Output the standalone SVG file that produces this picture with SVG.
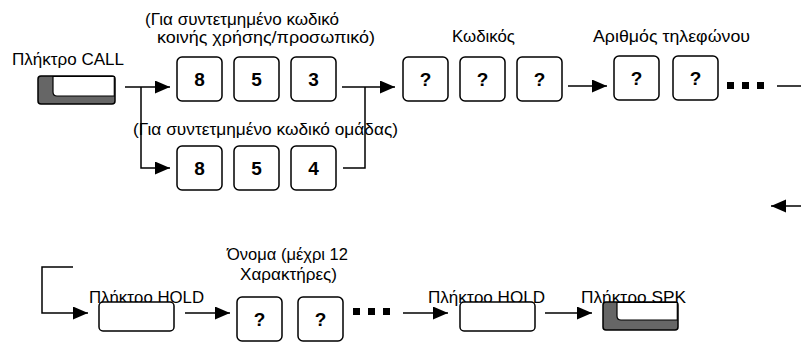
<svg xmlns="http://www.w3.org/2000/svg" width="801" height="342" viewBox="0 0 801 342">
<defs>
<style>
text{font-family:"Liberation Sans",Arial,sans-serif;font-size:17px;fill:#000}
.s{font-size:16px}
.k{font-weight:bold;font-size:19px;text-anchor:middle}
.box{fill:#fff;stroke:#000;stroke-width:1.5}
.dark{fill:#666;stroke:#000;stroke-width:1.5}
.in{fill:#fff;stroke:#000;stroke-width:1.2}
.ln{fill:none;stroke:#000;stroke-width:1.5}
.dot{fill:#000}
</style>
<marker id="ah" markerUnits="userSpaceOnUse" markerWidth="16" markerHeight="14" refX="15" refY="6.5" orient="auto">
<path d="M0,0 L15,6.5 L0,13 z" fill="#000"/>
</marker>
</defs>
<g id="labels">
<text x="12" y="65" textLength="112" lengthAdjust="spacingAndGlyphs">Πλήκτρο CALL</text>
<text class="s" x="145" y="25" textLength="194" lengthAdjust="spacingAndGlyphs">(Για συντετμημένο κωδικό</text>
<text class="s" x="157" y="43" textLength="218" lengthAdjust="spacingAndGlyphs">κοινής χρήσης/προσωπικό)</text>
<text x="452" y="42" textLength="63" lengthAdjust="spacingAndGlyphs">Κωδικός</text>
<text x="593" y="42" textLength="157" lengthAdjust="spacingAndGlyphs">Αριθμός τηλεφώνου</text>
<text x="133" y="135" textLength="265" lengthAdjust="spacingAndGlyphs">(Για συντετμημένο κωδικό ομάδας)</text>
<text x="227" y="260" textLength="121" lengthAdjust="spacingAndGlyphs">Όνομα (μέχρι 12</text>
<text x="240" y="280" textLength="97" lengthAdjust="spacingAndGlyphs">Χαρακτήρες)</text>
</g>
<g id="call-key">
<rect class="dark" x="38" y="76" width="77" height="28" rx="3"/>
<path class="in" d="M53,76.5 H114.3 V96 H57 Q53,96 53,92 Z"/>
</g>
<g id="k853">
<rect class="box" x="177" y="57" width="45" height="44" rx="5"/><text class="k" x="199.5" y="86">8</text>
<rect class="box" x="234" y="57" width="45" height="44" rx="5"/><text class="k" x="256.5" y="86">5</text>
<rect class="box" x="291" y="57" width="45" height="44" rx="5"/><text class="k" x="313.5" y="86">3</text>
</g>
<g id="k854">
<rect class="box" x="177" y="146" width="45" height="44" rx="5"/><text class="k" x="199.5" y="175">8</text>
<rect class="box" x="234" y="146" width="45" height="44" rx="5"/><text class="k" x="256.5" y="175">5</text>
<rect class="box" x="291" y="146" width="45" height="44" rx="5"/><text class="k" x="313.5" y="175">4</text>
</g>
<g id="code">
<rect class="box" x="403" y="57" width="45" height="44" rx="5"/><text class="k" x="425.5" y="86">?</text>
<rect class="box" x="460" y="57" width="45" height="44" rx="5"/><text class="k" x="482.5" y="86">?</text>
<rect class="box" x="517" y="57" width="45" height="44" rx="5"/><text class="k" x="539.5" y="86">?</text>
</g>
<g id="phone">
<rect class="box" x="614" y="56" width="45" height="44" rx="5"/><text class="k" x="636.5" y="85">?</text>
<rect class="box" x="673" y="56" width="45" height="44" rx="5"/><text class="k" x="695.5" y="85">?</text>
<rect class="dot" x="727" y="82" width="7" height="7"/>
<rect class="dot" x="742" y="82" width="7" height="7"/>
<rect class="dot" x="757" y="82" width="7" height="7"/>
</g>
<g id="hold1">
<text x="89" y="303" textLength="115" lengthAdjust="spacingAndGlyphs">Πλήκτρο HOLD</text>
<rect class="box" x="99" y="302" width="75" height="29" rx="4"/>
</g>
<g id="name">
<rect class="box" x="237" y="297" width="45" height="44" rx="5"/><text class="k" x="259.5" y="326">?</text>
<rect class="box" x="298" y="297" width="45" height="44" rx="5"/><text class="k" x="320.5" y="326">?</text>
<rect class="dot" x="353" y="308" width="7" height="7"/>
<rect class="dot" x="368" y="308" width="7" height="7"/>
<rect class="dot" x="383" y="308" width="7" height="7"/>
</g>
<g id="hold2">
<text x="428" y="303" textLength="117" lengthAdjust="spacingAndGlyphs">Πλήκτρο HOLD</text>
<rect class="box" x="460" y="302" width="75" height="29" rx="4"/>
</g>
<g id="spk-key">
<text x="581" y="303" textLength="105" lengthAdjust="spacingAndGlyphs">Πλήκτρο SPK</text>
<rect class="dark" x="603" y="302" width="75" height="28" rx="3"/>
<path class="in" d="M617,302.5 H677.3 V320 H621 Q617,320 617,316 Z"/>
</g>
<g id="connectors">
<path class="ln" d="M125,87 H170" marker-end="url(#ah)"/>
<path class="ln" d="M141,87 V168 H170" marker-end="url(#ah)"/>
<path class="ln" d="M342,87 H395" marker-end="url(#ah)"/>
<path class="ln" d="M343,168 H365 V87"/>
<path class="ln" d="M568,86 H607" marker-end="url(#ah)"/>
<path class="ln" d="M777,86 H801"/>
<path class="ln" d="M801,206 H771" marker-end="url(#ah)"/>
<path class="ln" d="M73,267 H42 V313 H88" marker-end="url(#ah)"/>
<path class="ln" d="M185,313 H230" marker-end="url(#ah)"/>
<path class="ln" d="M403,313 H448" marker-end="url(#ah)"/>
<path class="ln" d="M545,313 H592" marker-end="url(#ah)"/>
</g>
</svg>
